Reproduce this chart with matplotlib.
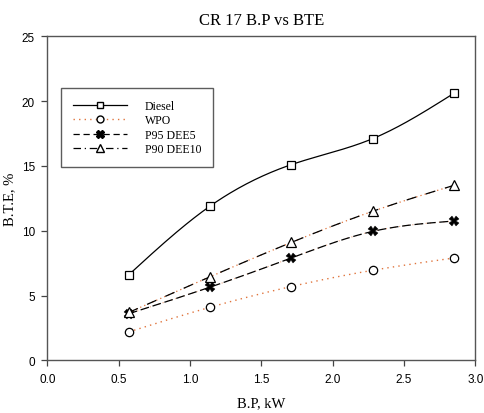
import numpy as np
import matplotlib
matplotlib.use('Agg')
import matplotlib.pyplot as plt
from matplotlib.lines import Line2D

# B.P (kW) vs brake thermal efficiency (%)
bp = [0.57, 1.14, 1.71, 2.28, 2.85]
diesel = [6.6, 11.9, 15.1, 17.1, 20.6]
wpo = [2.2, 4.1, 5.7, 6.95, 7.9]
p95_dee5 = [3.6, 5.65, 7.9, 9.95, 10.75]
p90_dee10 = [3.7, 6.45, 9.1, 11.5, 13.5]

ORANGE = '#e0743c'
SERIF = ['Liberation Serif', 'DejaVu Serif']
SANS = ['Liberation Sans', 'DejaVu Sans']


def smooth(x, y, n=200):
    # natural cubic spline through the points, used only for drawing the curve
    x = np.asarray(x, float)
    y = np.asarray(y, float)
    k = len(x)
    h = np.diff(x)
    A = np.zeros((k, k))
    r = np.zeros(k)
    A[0, 0] = A[-1, -1] = 1
    for i in range(1, k - 1):
        A[i, i - 1] = h[i - 1]
        A[i, i] = 2 * (h[i - 1] + h[i])
        A[i, i + 1] = h[i]
        r[i] = 6 * ((y[i + 1] - y[i]) / h[i] - (y[i] - y[i - 1]) / h[i - 1])
    m = np.linalg.solve(A, r)
    xs = np.linspace(x[0], x[-1], n)
    idx = np.clip(np.searchsorted(x, xs) - 1, 0, k - 2)
    t0 = x[idx]
    t1 = x[idx + 1]
    hh = t1 - t0
    a = (t1 - xs) / hh
    b = (xs - t0) / hh
    ys = (a * y[idx] + b * y[idx + 1]
          + ((a ** 3 - a) * m[idx] + (b ** 3 - b) * m[idx + 1]) * hh ** 2 / 6)
    return xs, ys


fig = plt.figure(figsize=(4.84, 4.14), dpi=100)
ax = fig.add_axes([0.098, 0.127, 0.884, 0.783])

# Diesel: solid black
xs, ys = smooth(bp, diesel)
ax.plot(xs, ys, color='black', lw=0.9)
ax.plot(bp, diesel, ls='none', marker='s', ms=6, mfc='white', mec='black', mew=0.9)

# WPO: orange dotted
xs, ys = smooth(bp, wpo)
ax.plot(xs, ys, color=ORANGE, lw=1.0, ls=(0, (1, 3)))
ax.plot(bp, wpo, ls='none', marker='o', ms=6, mfc='white', mec='black', mew=0.9)

# P95 DEE5: black dashed over faint orange
xs, ys = smooth(bp, p95_dee5)
ax.plot(xs, ys, color=ORANGE, lw=0.8, ls=(0, (1, 3)), alpha=0.6)
ax.plot(xs, ys, color='black', lw=0.9, ls=(0, (7, 3)))
ax.plot(bp, p95_dee5, ls='none', marker='X', ms=7, mfc='black', mec='black', mew=0.3)

# P90 DEE10: dash with orange dots
xs, ys = smooth(bp, p90_dee10)
ax.plot(xs, ys, color=ORANGE, lw=0.9, ls=(4, (1, 2.5)))
ax.plot(xs, ys, color='black', lw=0.9, ls=(0, (8, 8)))
ax.plot(bp, p90_dee10, ls='none', marker='^', ms=7, mfc='white', mec='black', mew=0.9)

ax.set_xlim(0, 3.0)
ax.set_ylim(0, 25)
ax.set_xticks(np.arange(0, 3.01, 0.5))
ax.set_yticks(np.arange(0, 26, 5))
ax.set_xticklabels([f'{v:.1f}' for v in np.arange(0, 3.01, 0.5)])
for lbl in ax.get_xticklabels() + ax.get_yticklabels():
    lbl.set_family(SANS)
    lbl.set_fontsize(8.5)
ax.tick_params(direction='out', length=4, width=0.9, color='#444444', pad=5)
for s in ax.spines.values():
    s.set_color('#555555')
    s.set_linewidth(1.0)

ax.set_title('CR 17 B.P vs BTE', family=SERIF, fontsize=12, pad=9)
ax.set_xlabel('B.P, kW', family=SERIF, fontsize=10.5, labelpad=8)
ax.set_ylabel('B.T.E, %', family=SERIF, fontsize=10.5, labelpad=4)

handles = [
    Line2D([], [], color='black', lw=0.9, marker='s', ms=5, mfc='white', mec='black'),
    Line2D([], [], color=ORANGE, lw=1.0, ls=(0, (1, 3)), marker='o', ms=5, mfc='white', mec='black'),
    Line2D([], [], color='black', lw=0.9, ls=(0, (5, 3)), marker='X', ms=6, mfc='black', mec='black'),
    Line2D([], [], color='black', lw=0.9, ls=(0, (6, 3, 1, 3)), marker='^', ms=6, mfc='white', mec='black'),
]
leg = ax.legend(handles, ['Diesel', 'WPO', 'P95 DEE5', 'P90 DEE10'],
                loc='upper left', bbox_to_anchor=(0.032, 0.84),
                handlelength=4.6, handletextpad=1.5, borderpad=1.0,
                labelspacing=0.2, fancybox=False, shadow=False,
                borderaxespad=0, prop={'family': SERIF, 'size': 8.5})
leg.get_frame().set_edgecolor('#333333')
leg.get_frame().set_linewidth(1.0)

fig.savefig('out.png', dpi=100)
